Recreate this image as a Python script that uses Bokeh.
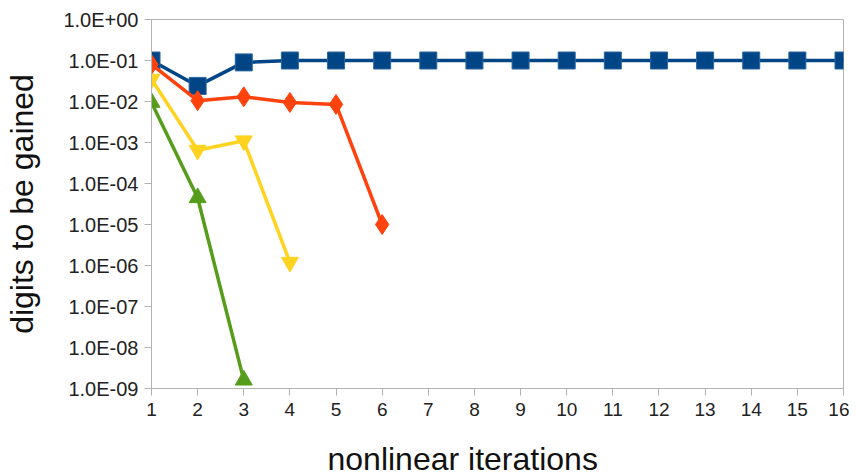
from bokeh.plotting import figure
from bokeh.embed import file_html
from bokeh.resources import INLINE
from bokeh.models import FixedTicker, CustomJSTickFormatter, Range1d, Title

iters_blue = list(range(1, 17))
blue = [0.1, 0.024, 0.09, 0.1, 0.1, 0.1, 0.1, 0.1, 0.1, 0.1, 0.1, 0.1, 0.1, 0.1, 0.1, 0.1]
iters_red = [1, 2, 3, 4, 5, 6]
red = [0.08, 0.0105, 0.013, 0.0095, 0.0085, 1.0e-5]
iters_yellow = [1, 2, 3, 4]
yellow = [0.035, 6.5e-4, 1.1e-3, 1.2e-6]
iters_green = [1, 2, 3]
green = [0.0095, 4.5e-5, 1.6e-9]

x_ticks = list(range(1, 17))
y_ticks = [1e-9, 1e-8, 1e-7, 1e-6, 1e-5, 1e-4, 1e-3, 1e-2, 1e-1, 1e0]

FONT = "Liberation Sans"
W, H = 849, 474

p = figure(width=W, height=H, y_axis_type="log", output_backend="svg",
           toolbar_location=None, x_range=Range1d(1, 16), y_range=Range1d(1e-9, 1.0),
           min_border_left=151, min_border_right=W - 843, min_border_top=19,
           min_border_bottom=H - 388)
p.grid.visible = False
p.outline_line_color = "#b3b3b3"
p.background_fill_color = "white"
p.border_fill_color = "white"

p.xaxis.ticker = FixedTicker(ticks=x_ticks)
p.yaxis.ticker = FixedTicker(ticks=y_ticks)
p.yaxis.formatter = CustomJSTickFormatter(code="""
const e = Math.round(Math.log10(tick));
const s = e < 0 ? '-' : '+';
const a = Math.abs(e);
return '1.0E' + s + (a < 10 ? '0' : '') + a;
""")
for ax in (p.xaxis, p.yaxis):
    ax.axis_line_color = "#b3b3b3"
    ax.major_tick_line_color = "#b3b3b3"
    ax.minor_tick_line_color = None
    ax.major_tick_out = 7
    ax.major_tick_in = 0
    ax.major_label_text_font = FONT
    ax.major_label_text_color = "#222222"
p.xaxis.major_label_text_font_size = "19px"
p.yaxis.major_label_text_font_size = "20px"
p.xaxis.major_label_standoff = 7
p.yaxis.major_label_standoff = 6

# blank spacer label below the x tick labels, so the title sits lower
p.xaxis.axis_label = " "
p.xaxis.axis_label_text_font_size = "19px"
p.xaxis.axis_label_standoff = 11

p.yaxis.axis_label = "digits to be gained"
p.yaxis.axis_label_text_font = FONT
p.yaxis.axis_label_text_font_size = "32px"
p.yaxis.axis_label_text_font_style = "normal"
p.yaxis.axis_label_text_color = "#111111"
p.yaxis.axis_label_standoff = 20

xt = Title(text="nonlinear iterations", align="left", offset=176,
           text_font=FONT, text_font_size="32px", text_font_style="normal",
           text_color="#111111", standoff=-30)
p.add_layout(xt, "below")

p.line(iters_blue, blue, line_color="#004586", line_width=3.5)
p.scatter(iters_blue, blue, marker="square", size=17, fill_color="#004586",
          line_color="#2a67a0", line_width=1)
p.line(iters_red, red, line_color="#ff420e", line_width=3.5)
p.scatter(iters_red, red, marker="diamond", size=20, fill_color="#ff420e",
          line_color="#ff420e")
p.line(iters_yellow, yellow, line_color="#ffd320", line_width=3.5)
p.scatter(iters_yellow, yellow, marker="inverted_triangle", size=17,
          fill_color="#ffd320", line_color="#ffd320")
p.line(iters_green, green, line_color="#579d1c", line_width=3.5)
p.scatter(iters_green, green, marker="triangle", size=17,
          fill_color="#579d1c", line_color="#579d1c")

open("out.html", "w").write(file_html(p, INLINE))
